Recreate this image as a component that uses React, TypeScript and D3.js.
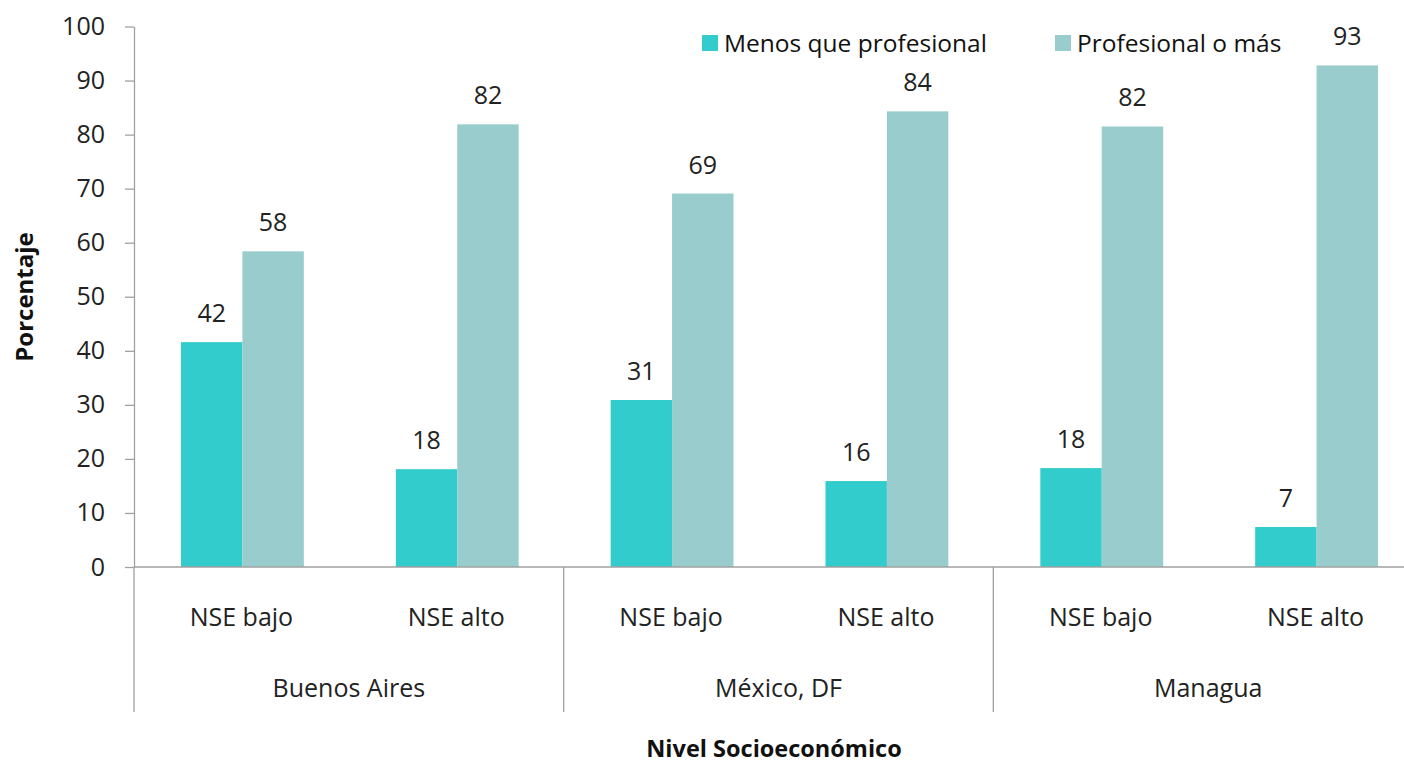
import React, {useEffect, useRef} from 'react';
import * as d3 from 'd3';

const cities = ["Buenos Aires", "México, DF", "Managua"];
const levels = ["NSE bajo", "NSE alto"];
const seriesNames = ["Menos que profesional", "Profesional o más"];
const menos = [41.6, 18.1, 30.9, 15.9, 18.3, 7.4];
const profesional = [58.4, 81.9, 69.1, 84.3, 81.5, 92.8];
const yTicks = [0, 10, 20, 30, 40, 50, 60, 70, 80, 90, 100];
const colors = ["#33CCCC", "#99CCCC"];

function App() {

    const svgRef = useRef<SVGSVGElement>(null);

    const width = 1404;
    const height = 765;
    const left = 134;
    const right = 1423;
    const top = 26.5;
    const bottom = 567;
    const lower = 712;
    const font = "'Open Sans', sans-serif";

    useEffect(() => {
        const svg = d3.select(svgRef.current);
        svg.selectAll("*").remove();

        // one slot per city/level pair
        const slots = cities.flatMap(c => levels.map(l => c + "|" + l));
        const rows = slots.map((s, i) => ({key: s, level: s.split("|")[1], values: [menos[i], profesional[i]]}));

        const x0 = d3.scaleBand().domain(slots).range([left, right]).paddingInner(0).paddingOuter(0);
        const x1 = d3.scaleBand().domain(seriesNames).range([47, x0.bandwidth() - 45]);
        const xCity = d3.scaleBand().domain(cities).range([left, right]);
        const y = d3.scaleLinear().domain([0, 100]).range([bottom, top]);

        // bars
        const groups = svg.append("g").selectAll("g")
            .data(rows)
            .join("g")
            .attr("transform", d => "translate(" + x0(d.key) + ",0)");

        groups.selectAll("rect")
            .data(d => d.values.map((v, i) => ({name: seriesNames[i], v: v, i: i})))
            .join("rect")
            .attr("x", d => x1(d.name)!)
            .attr("width", x1.bandwidth())
            .attr("y", d => y(d.v))
            .attr("height", d => y(0) - y(d.v))
            .attr("fill", d => colors[d.i]);

        groups.selectAll("text")
            .data(d => d.values.map((v, i) => ({name: seriesNames[i], v: v})))
            .join("text")
            .attr("x", d => x1(d.name)! + x1.bandwidth() / 2)
            .attr("y", d => y(d.v) - 20)
            .attr("text-anchor", "middle")
            .attr("font-family", font)
            .attr("font-size", 25)
            .attr("fill", "#222")
            .text(d => d3.format(".0f")(d.v));

        // y axis
        const yAxis = d3.axisLeft(y).tickValues(yTicks).tickSizeInner(9).tickSizeOuter(0).tickPadding(20);
        const ya = svg.append("g").attr("transform", "translate(" + left + ",0)").call(yAxis);
        ya.selectAll("path, line").attr("stroke", "#a0a0a0").attr("stroke-width", 1.3);
        ya.selectAll("text").attr("font-family", font).attr("font-size", 25).attr("fill", "#222");

        // x axis line and city separators
        const gray = "#a0a0a0";
        svg.append("line")
            .attr("x1", left).attr("x2", right).attr("y1", bottom).attr("y2", bottom)
            .attr("stroke", gray).attr("stroke-width", 1.3);
        svg.append("g").selectAll("line")
            .data(cities.map(c => xCity(c)!).concat([right]))
            .join("line")
            .attr("x1", d => d).attr("x2", d => d)
            .attr("y1", bottom).attr("y2", lower)
            .attr("stroke", gray).attr("stroke-width", 1.3);

        svg.append("g").selectAll("text")
            .data(rows)
            .join("text")
            .attr("x", d => x0(d.key)! + x0.bandwidth() / 2)
            .attr("y", 626)
            .attr("text-anchor", "middle")
            .attr("font-family", font)
            .attr("font-size", 25)
            .attr("fill", "#222")
            .text(d => d.level);

        svg.append("g").selectAll("text")
            .data(cities)
            .join("text")
            .attr("x", d => xCity(d)! + xCity.bandwidth() / 2)
            .attr("y", 697)
            .attr("text-anchor", "middle")
            .attr("font-family", font)
            .attr("font-size", 25)
            .attr("fill", "#222")
            .text(d => d);

        // axis titles
        svg.append("text")
            .attr("transform", "translate(33," + 297 + ") rotate(-90)")
            .attr("text-anchor", "middle")
            .attr("font-family", font)
            .attr("font-size", 24)
            .attr("font-weight", "bold")
            .attr("fill", "#111")
            .text("Porcentaje");

        svg.append("text")
            .attr("x", 774)
            .attr("y", 757)
            .attr("text-anchor", "middle")
            .attr("font-family", font)
            .attr("font-size", 23.5)
            .attr("font-weight", "bold")
            .attr("fill", "#111")
            .text("Nivel Socioeconómico");

        // legend
        const legendX = [702, 1055];
        const legend = svg.append("g").selectAll("g")
            .data(seriesNames)
            .join("g")
            .attr("transform", (d, i) => "translate(" + legendX[i] + ",35)");
        legend.append("rect")
            .attr("width", 16).attr("height", 16)
            .attr("fill", (d, i) => colors[i]);
        legend.append("text")
            .attr("x", 22)
            .attr("y", 17)
            .attr("font-family", font)
            .attr("font-size", 24.5)
            .attr("fill", "#111")
            .text(d => d);

    }, []);

    return (
        <svg ref={svgRef} width={width} height={height}
             style={{position: "absolute", left: 0, top: 0, background: "#fff"}}>
        </svg>
    );
}

export default App;
